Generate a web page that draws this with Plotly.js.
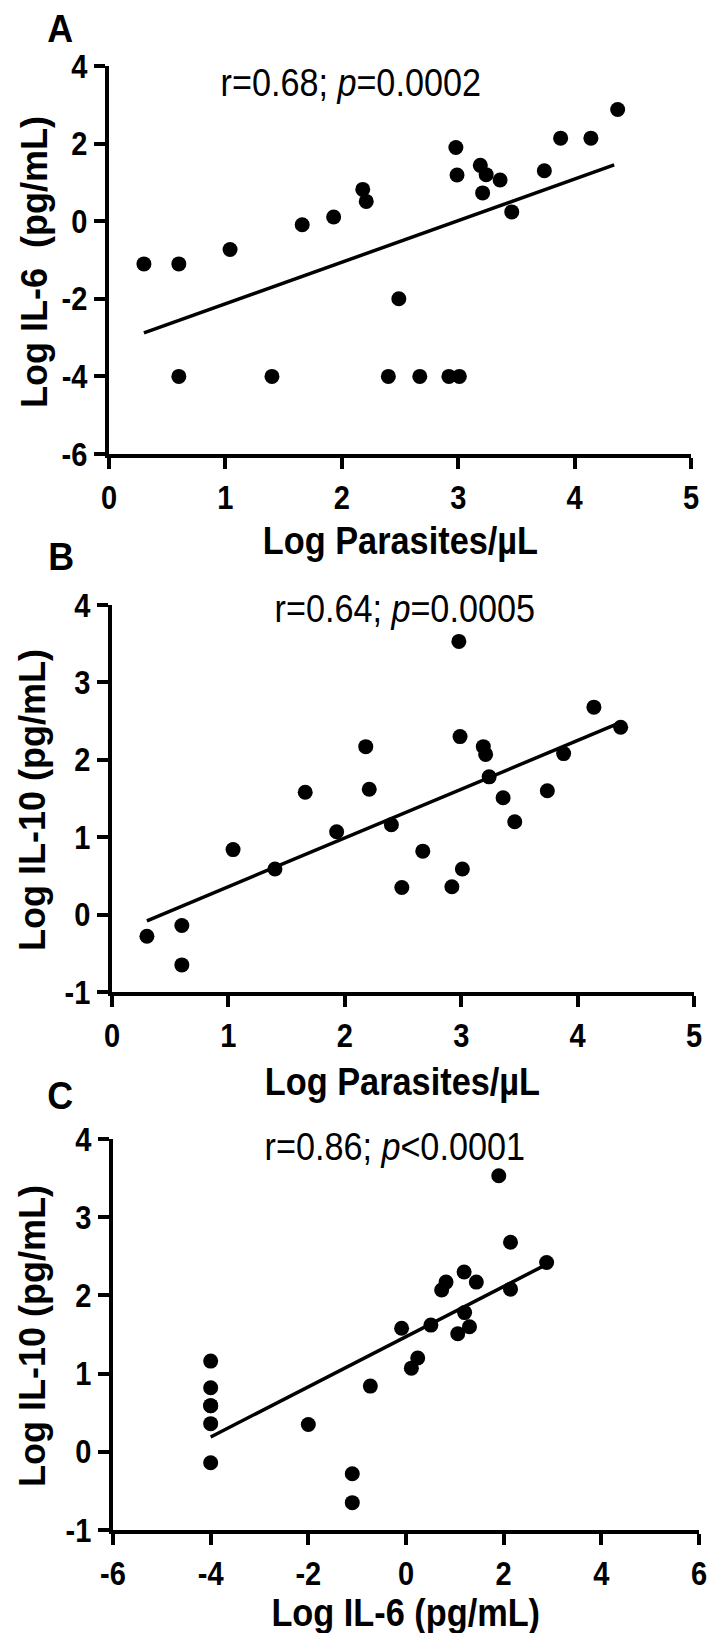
<!DOCTYPE html>
<html>
<head>
<meta charset="utf-8">
<script src="https://cdn.plot.ly/plotly-3.0.1.min.js"></script>
<style>
  html, body { margin: 0; padding: 0; background: #ffffff; }
  #chart { width: 713px; height: 1633px; }
</style>
</head>
<body>
<div id="chart"></div>
<script>
// ---- Data (one entry per subject) ----
const logParasites = [0.30, 0.60, 0.60, 1.04, 1.40, 1.66, 1.93, 2.18, 2.21, 2.40, 2.49, 2.67, 2.92, 3.01, 2.98, 2.99, 3.19, 3.24, 3.21, 3.36, 3.46, 3.74, 3.88, 4.14, 4.37];
const logIL6 = [-1.10, -1.10, -4.00, -0.73, -4.00, -0.09, 0.11, 0.82, 0.51, -4.00, -2.00, -4.00, -4.00, -4.00, 1.90, 1.19, 1.44, 1.20, 0.73, 1.06, 0.24, 1.30, 2.14, 2.14, 2.88];
const logIL10 = [-0.28, -0.65, -0.14, 0.84, 0.59, 1.58, 1.07, 2.17, 1.62, 1.16, 0.35, 0.82, 0.36, 0.59, 3.53, 2.30, 2.17, 1.78, 2.07, 1.51, 1.20, 1.60, 2.08, 2.68, 2.42];

// Regression lines (end points)
const fitA_x = [0.30, 4.34];
const fitA_y = [-2.88, 1.45];
const fitB_x = [0.30, 4.35];
const fitB_y = [-0.08, 2.47];
const fitC_x = [-4.00, 2.92];
const fitC_y = [0.19, 2.41];

// Labels
const panelLetters = ['A', 'B', 'C'];
const statsText = ['r=0.68; <i>p</i>=0.0002', 'r=0.64; <i>p</i>=0.0005', 'r=0.86; <i>p</i><0.0001'];
const xTitles = ['Log Parasites/µL', 'Log Parasites/µL', 'Log IL-6 (pg/mL)'];
const yTitles = ['Log IL-6\u00A0 (pg/mL)', 'Log IL-10 (pg/mL)', 'Log IL-10 (pg/mL)'];
const xTicksAB = [0, 1, 2, 3, 4, 5];
const xTicksC = [-6, -4, -2, 0, 2, 4, 6];
const yTicksA = [-6, -4, -2, 0, 2, 4];
const yTicksBC = [-1, 0, 1, 2, 3, 4];

// ---- Layout helpers ----
const W = 713, H = 1633;
const px = v => v / W;
const py = v => 1 - v / H;
const FONT = 'Liberation Sans, Arial, sans-serif';
const tickText = vals => vals.map(v => '<b>' + String(v) + '</b>');

function axisStyle(vals, extra) {
  return Object.assign({
    showline: true, linecolor: '#000', linewidth: 4,
    ticks: 'outside', ticklen: 11, tickwidth: 4, tickcolor: '#000',
    showgrid: false, zeroline: false, fixedrange: true,
    tickfont: { family: FONT, size: 33, color: '#000', weight: 700 },
    tickmode: 'array', tickvals: vals, ticktext: tickText(vals)
  }, extra);
}

const marker = { color: '#000', size: 15, symbol: 'circle', line: { width: 0 } };
const fitLine = { color: '#000', width: 3.5 };

const traces = [
  { x: logParasites, y: logIL6, xaxis: 'x', yaxis: 'y', mode: 'markers', type: 'scatter', marker: marker, cliponaxis: false, hoverinfo: 'skip' },
  { x: fitA_x, y: fitA_y, xaxis: 'x', yaxis: 'y', mode: 'lines', type: 'scatter', line: fitLine, hoverinfo: 'skip' },
  { x: logParasites, y: logIL10, xaxis: 'x2', yaxis: 'y2', mode: 'markers', type: 'scatter', marker: marker, cliponaxis: false, hoverinfo: 'skip' },
  { x: fitB_x, y: fitB_y, xaxis: 'x2', yaxis: 'y2', mode: 'lines', type: 'scatter', line: fitLine, hoverinfo: 'skip' },
  { x: logIL6, y: logIL10, xaxis: 'x3', yaxis: 'y3', mode: 'markers', type: 'scatter', marker: marker, cliponaxis: false, hoverinfo: 'skip' },
  { x: fitC_x, y: fitC_y, xaxis: 'x3', yaxis: 'y3', mode: 'lines', type: 'scatter', line: fitLine, hoverinfo: 'skip' }
];

// pixel geometry of the three panels
const panels = [
  { xl: 109, xr: 691, yt: 66,   yb: 454,  letter: [60, 28],   stats: [350, 83],   xt: [400, 541],  yt2: [34, 262] },
  { xl: 112, xr: 694, yt: 605,  yb: 992,  letter: [61, 557],  stats: [404, 609],  xt: [403, 1081], yt2: [32, 800] },
  { xl: 113, xr: 699, yt: 1139, yb: 1530, letter: [60, 1095], stats: [394, 1147], xt: [405, 1612], yt2: [32, 1336] }
];

const layout = {
  width: W, height: H,
  margin: { l: 0, r: 0, t: 0, b: 0 },
  paper_bgcolor: '#fff', plot_bgcolor: '#fff',
  showlegend: false,
  font: { family: FONT, color: '#000' },
  xaxis:  axisStyle(xTicksAB, { domain: [px(panels[0].xl), px(panels[0].xr)], range: [0, 5], anchor: 'y' }),
  yaxis:  axisStyle(yTicksA,  { domain: [py(panels[0].yb), py(panels[0].yt)], range: [-6, 4], anchor: 'x' }),
  xaxis2: axisStyle(xTicksAB, { domain: [px(panels[1].xl), px(panels[1].xr)], range: [0, 5], anchor: 'y2' }),
  yaxis2: axisStyle(yTicksBC, { domain: [py(panels[1].yb), py(panels[1].yt)], range: [-1, 4], anchor: 'x2' }),
  xaxis3: axisStyle(xTicksC,  { domain: [px(panels[2].xl), px(panels[2].xr)], range: [-6, 6], anchor: 'y3' }),
  yaxis3: axisStyle(yTicksBC, { domain: [py(panels[2].yb), py(panels[2].yt)], range: [-1, 4], anchor: 'x3' }),
  annotations: []
};

// horizontal squeeze applied to each annotation after drawing (1 = none)
const squeeze = [];
panels.forEach((p, i) => {
  layout.annotations.push({
    text: '<b>' + panelLetters[i] + '</b>', xref: 'paper', yref: 'paper',
    x: px(p.letter[0]), y: py(p.letter[1]), xanchor: 'center', yanchor: 'middle',
    showarrow: false, font: { family: FONT, size: 39, color: '#000' }
  });
  squeeze.push(0.92);
  layout.annotations.push({
    text: statsText[i], xref: 'paper', yref: 'paper',
    x: px(p.stats[0]), y: py(p.stats[1]), xanchor: 'center', yanchor: 'middle',
    showarrow: false, font: { family: FONT, size: 38, color: '#000' }
  });
  squeeze.push(0.9);
  layout.annotations.push({
    text: '<b>' + xTitles[i] + '</b>', xref: 'paper', yref: 'paper',
    x: px(p.xt[0]), y: py(p.xt[1]), xanchor: 'center', yanchor: 'middle',
    showarrow: false, font: { family: FONT, size: 39, color: '#000' }
  });
  squeeze.push(0.88);
  layout.annotations.push({
    text: '<b>' + yTitles[i] + '</b>', xref: 'paper', yref: 'paper', textangle: -90,
    x: px(p.yt2[0]), y: py(p.yt2[1]), xanchor: 'center', yanchor: 'middle',
    showarrow: false, font: { family: FONT, size: 36, color: '#000' }
  });
  squeeze.push(1);
});

// narrow a text element horizontally about a chosen anchor (keeps it real text)
function narrow(el, s, anchor) {
  if (s === 1) return;
  const bb = el.getBBox();
  const ax = anchor === 'end' ? bb.x + bb.width : bb.x + bb.width / 2;
  const prev = el.getAttribute('transform') || '';
  el.setAttribute('transform', (prev + ' translate(' + ax + ',0) scale(' + s + ',1) translate(' + (-ax) + ',0)').trim());
}

Plotly.newPlot('chart', traces, layout, { staticPlot: true, displayModeBar: false }).then(gd => {
  gd.querySelectorAll('g.annotation').forEach(g => {
    const idx = +g.getAttribute('data-index');
    const t = g.querySelector('text.annotation-text');
    if (t && squeeze[idx] !== undefined) narrow(t, squeeze[idx], 'middle');
  });
  gd.querySelectorAll('.xaxislayer-above text').forEach(t => narrow(t, 0.88, 'middle'));
  gd.querySelectorAll('.yaxislayer-above text').forEach(t => narrow(t, 0.88, 'end'));
});
</script>
</body>
</html>
